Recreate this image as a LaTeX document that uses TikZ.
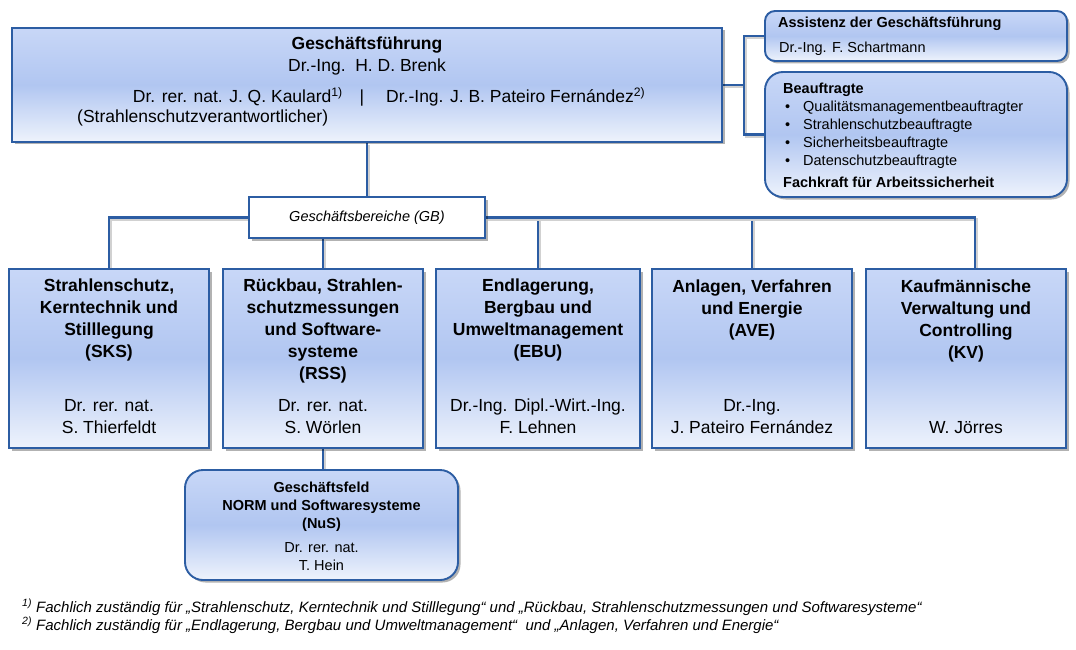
\documentclass[tikz,border=0pt]{standalone}
\usepackage{fontspec}
\setmainfont{Liberation Sans}
\usetikzlibrary{shadows,calc}
\definecolor{bord}{HTML}{2C5DA3}
\definecolor{gtop}{HTML}{C8D7F7}
\definecolor{gmid}{HTML}{B1C6F1}
\definecolor{gbot}{HTML}{EEF3FC}
\pgfdeclarelayer{bg}
\pgfsetlayers{bg,main}
\newcommand\szA{\fontsize{17.5}{22}\selectfont}
\newcommand\szB{\fontsize{14.5}{18}\selectfont}
\tikzset{
  shad/.style={drop shadow={shadow xshift=2.5pt,shadow yshift=-2.5pt,opacity=0.3,fill=black}},
  box/.style={draw=bord, line width=1.9pt, top color=gtop, bottom color=gbot, middle color=gmid, shad, inner sep=0pt},
  whitebox/.style={draw=bord, line width=1.9pt, fill=white, shad, inner sep=0pt},
  conn/.style={draw=bord, line width=2.2pt, preaction={draw=black!18, line width=2.6pt, transform canvas={shift={(2pt,-2pt)}}}},
  ttl/.style={font=\szA\bfseries, align=center, inner sep=0pt, anchor=north},
  nm/.style={font=\szA, align=center, inner sep=0pt, anchor=south},
  txt/.style={inner sep=0pt},
}
\begin{document}
\begin{tikzpicture}[x=1pt,y=-1pt]
\useasboundingbox (0,0) rectangle (1076,650);
% boxes
\node[box, minimum width=710pt, minimum height=114pt] (gf) at (367,85) {};
\node[box, rounded corners=10pt, minimum width=302pt, minimum height=50pt] (ass) at (916,36) {};
\node[box, rounded corners=18pt, minimum width=302pt, minimum height=125pt] (beau) at (916,134.5) {};
\node[whitebox, minimum width=236pt, minimum height=41pt, font=\szB\itshape] (gb) at (367,217.5) {Geschäftsbereiche (GB)};
\node[box, minimum width=200pt, minimum height=179pt] (sks) at (109,358.5) {};
\node[box, minimum width=200pt, minimum height=179pt] (rss) at (323,358.5) {};
\node[box, minimum width=204pt, minimum height=179pt] (ebu) at (538,358.5) {};
\node[box, minimum width=200pt, minimum height=179pt] (ave) at (752,358.5) {};
\node[box, minimum width=200pt, minimum height=179pt] (kv) at (966,358.5) {};
\node[box, rounded corners=18pt, minimum width=273pt, minimum height=110pt] (nus) at (321.5,525) {};
% connectors
\coordinate (j) at (744,85);
\coordinate (kvtop) at ($(kv.north)+(9,0)$);
\begin{pgfonlayer}{bg}
\draw[conn] (gf) -- (gb);
\draw[conn] (gf.east) -- (j);
\draw[conn] (ass.west) -| (j);
\draw[conn] (j) |- (beau.west);
\draw[conn] (sks.north) |- (gb.west);
\draw[conn] (rss.north) -- (rss.north |- gb.south);
\draw[conn] (ebu.north) |- (gb.east);
\draw[conn] (ave.north) |- (gb.east);
\draw[conn] (kvtop) |- (gb.east);
\draw[conn] (rss.south) -- (rss.south |- nus.north);
\end{pgfonlayer}
% top box text
\node[txt, font=\szA\bfseries, anchor=base] (gft1) at (367,50) {Geschäftsführung};
\node[txt, font=\szA, anchor=base] (gft2) at (367,72) {Dr.-Ing.\ \ H. D. Brenk};
\node[txt, font=\szA, anchor=base east] (gft3) at (343,103) {Dr. rer. nat. J. Q. Kaulard\textsuperscript{1)}};
\node[txt, font=\szA, anchor=base] (gft4) at (362,103) {|};
\node[txt, font=\szA, anchor=base west] (gft5) at (386,103) {Dr.-Ing. J. B. Pateiro Fernández\textsuperscript{2)}};
\node[txt, font=\szA, anchor=base west] (gft6) at (77,123) {(Strahlenschutzverantwortlicher)};
% right boxes text
\node[txt, font=\szB\bfseries, anchor=base west] (asst1) at (778,28) {Assistenz der Geschäftsführung};
\node[txt, font=\szB, anchor=base west] (asst2) at (779,53) {Dr.-Ing. F. Schartmann};
\node[txt, font=\szB, align=left, anchor=north west] (beaut) at (783,82.5) {\textbf{Beauftragte}\\
\hspace*{2pt}\makebox[18pt][l]{•}Qualitätsmanagementbeauftragter\\
\hspace*{2pt}\makebox[18pt][l]{•}Strahlenschutzbeauftragte\\
\hspace*{2pt}\makebox[18pt][l]{•}Sicherheitsbeauftragte\\
\hspace*{2pt}\makebox[18pt][l]{•}Datenschutzbeauftragte\\[4pt]
\textbf{Fachkraft für Arbeitssicherheit}};
% department texts
\node[ttl] (skst) at (109,278.5) {Strahlenschutz,\\Kerntechnik und\\Stilllegung\\(SKS)};
\node[nm] (sksn) at (109,434) {Dr. rer. nat.\\S. Thierfeldt};
\node[ttl] (rsst) at (323,278.5) {Rückbau, Strahlen-\\schutzmessungen\\und Software-\\systeme\\(RSS)};
\node[nm] (rssn) at (323,434) {Dr. rer. nat.\\S. Wörlen};
\node[ttl] (ebut) at (538,278.5) {Endlagerung,\\Bergbau und\\Umweltmanagement\\(EBU)};
\node[nm] (ebun) at (538,434) {Dr.-Ing. Dipl.-Wirt.-Ing.\\F. Lehnen};
\node[ttl] (avet) at (752,279.5) {Anlagen, Verfahren\\und Energie\\(AVE)};
\node[nm] (aven) at (752,434) {Dr.-Ing.\\J. Pateiro Fernández};
\node[ttl] (kvt) at (966,279.5) {Kaufmännische\\Verwaltung und\\Controlling\\(KV)};
\node[nm] (kvn) at (966,434) {W. Jörres};
% NuS text
\node[txt, font=\szB\bfseries, align=center, anchor=north] (nust) at (321.5,481.5) {Geschäftsfeld\\NORM und Softwaresysteme\\(NuS)};
\node[txt, font=\szB, align=center, anchor=south] (nusn) at (321.5,571) {Dr. rer. nat.\\T. Hein};
% footnotes
\node[txt, font=\fontsize{15}{18}\selectfont\itshape, anchor=base west] (fn1) at (22,612) {\textsuperscript{1)} Fachlich zuständig für „Strahlenschutz, Kerntechnik und Stilllegung“ und „Rückbau, Strahlenschutzmessungen und Softwaresysteme“};
\node[txt, font=\fontsize{15}{18}\selectfont\itshape, anchor=base west] (fn2) at (22,630) {\textsuperscript{2)} Fachlich zuständig für „Endlagerung, Bergbau und Umweltmanagement“\ \ und „Anlagen, Verfahren und Energie“};
\end{tikzpicture}
\end{document}
